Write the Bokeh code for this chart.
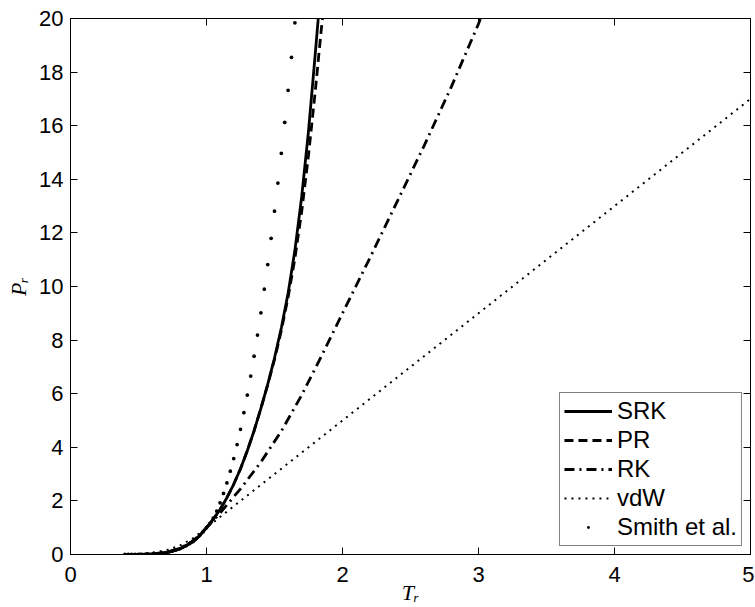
from bokeh.plotting import figure
from bokeh.models import Range1d, FixedTicker, LinearAxis
from bokeh.embed import file_html
from bokeh.resources import INLINE

# ---- data ----
T_srk = [0.4, 0.5, 0.6, 0.7, 0.8, 0.9, 0.95, 1.0, 1.05, 1.1, 1.15, 1.2, 1.25, 1.3, 1.35,
         1.4, 1.45, 1.5, 1.55, 1.6, 1.65, 1.7, 1.75, 1.8, 1.83]
P_srk = [0.0, 0.003, 0.015, 0.065, 0.2, 0.47, 0.7, 1.0, 1.32, 1.68, 2.12, 2.62, 3.2, 3.87, 4.62,
         5.45, 6.35, 7.33, 8.45, 9.75, 11.35, 13.35, 15.8, 18.7, 20.5]

T_pr = [0.4, 0.5, 0.6, 0.7, 0.8, 0.9, 0.95, 1.0, 1.05, 1.1, 1.15, 1.2, 1.25, 1.3, 1.35,
        1.4, 1.45, 1.5, 1.55, 1.6, 1.65, 1.7, 1.75, 1.8, 1.85, 1.87]
P_pr = [0.0, 0.003, 0.015, 0.065, 0.2, 0.47, 0.7, 1.0, 1.32, 1.68, 2.12, 2.62, 3.2, 3.87, 4.62,
        5.45, 6.33, 7.28, 8.35, 9.6, 11.05, 12.8, 14.9, 17.3, 19.9, 20.5]

T_rk = [0.4, 0.5, 0.6, 0.7, 0.8, 0.9, 0.95, 1.0, 1.05, 1.1, 1.15, 1.25, 1.4, 1.55, 1.7,
        1.85, 2.0, 2.2, 2.4, 2.6, 2.8, 3.0, 3.03]
P_rk = [0.0, 0.004, 0.02, 0.075, 0.22, 0.5, 0.72, 1.0, 1.27, 1.55, 1.85, 2.45, 3.45, 4.6, 5.95,
        7.45, 9.0, 11.05, 13.15, 15.25, 17.45, 19.8, 20.2]

T_vdw = [0.4, 0.5, 0.6, 0.7, 0.8, 0.9, 1.0, 2.0, 3.0, 4.0, 5.0]
P_vdw = [0.005, 0.025, 0.07, 0.15, 0.32, 0.6, 1.0, 5.0, 9.0, 13.0, 17.0]

T_smith = [0.4, 0.425, 0.45, 0.475, 0.5, 0.525, 0.55, 0.575, 0.6, 0.625, 0.65, 0.675, 0.7,
           0.725, 0.75, 0.775, 0.8, 0.825, 0.85, 0.875, 0.9, 0.925, 0.95, 0.975, 1.0,
           1.025, 1.05, 1.075, 1.1, 1.125, 1.15, 1.175, 1.2, 1.225, 1.25, 1.275, 1.3,
           1.325, 1.35, 1.375, 1.4, 1.425, 1.45, 1.475, 1.5, 1.525, 1.55, 1.575, 1.6,
           1.625, 1.65]
P_smith = [0.0001, 0.0003, 0.0007, 0.0014, 0.0026, 0.0045, 0.0075, 0.012, 0.018, 0.026,
           0.038, 0.053, 0.072, 0.097, 0.128, 0.165, 0.21, 0.27, 0.33, 0.41, 0.5, 0.6,
           0.72, 0.85, 1.0, 1.16, 1.36, 1.62, 1.93, 2.28, 2.67, 3.11, 3.58, 4.10, 4.67,
           5.29, 5.95, 6.66, 7.40, 8.19, 9.02, 9.90, 10.82, 11.80, 12.81, 13.86, 14.97,
           16.12, 17.32, 18.55, 19.84]

x_ticks = [0, 1, 2, 3, 4, 5]
y_ticks = [0, 2, 4, 6, 8, 10, 12, 14, 16, 18, 20]

TICK_FONT = "Liberation Sans"
TICK_SIZE = "22px"
SERIF = "Liberation Serif"

p = figure(width=754, height=607, output_backend="svg", toolbar_location=None,
           x_range=Range1d(0, 5), y_range=Range1d(0, 20),
           min_border_left=70, min_border_top=18, min_border_right=4, min_border_bottom=52,
           background_fill_color="white", border_fill_color="white")
p.grid.visible = False
p.outline_line_color = "black"
p.outline_line_width = 1

for ax, ticks in ((p.xaxis[0], x_ticks), (p.yaxis[0], y_ticks)):
    ax.ticker = FixedTicker(ticks=ticks)
    ax.major_tick_in = 7
    ax.major_tick_out = 0
    ax.minor_tick_line_color = None
    ax.axis_line_color = "black"
    ax.axis_line_width = 1
    ax.major_tick_line_color = "black"
    ax.major_label_text_font = TICK_FONT
    ax.major_label_text_font_size = TICK_SIZE
    ax.major_label_text_color = "black"
    ax.axis_label_text_font = SERIF
    ax.axis_label_text_font_style = "italic"
    ax.axis_label_text_font_size = "22px"
    ax.axis_label_text_color = "black"

p.xaxis[0].major_label_standoff = 12
p.xaxis[0].axis_label = "T\u1d63"
p.xaxis[0].axis_label_standoff = -5
p.yaxis[0].major_label_standoff = 7
p.yaxis[0].axis_label = "P\u1d63"
p.yaxis[0].axis_label_standoff = 5

for loc, ticks in (("right", y_ticks), ("above", x_ticks)):
    ax = LinearAxis(ticker=FixedTicker(ticks=ticks))
    ax.major_tick_in = 7
    ax.major_tick_out = 0
    ax.minor_tick_line_color = None
    ax.axis_line_color = "black"
    ax.major_label_text_color = None
    ax.major_label_text_font_size = "1px"
    ax.major_label_standoff = 0
    p.add_layout(ax, loc)

p.line(T_srk, P_srk, line_color="black", line_width=2.8, legend_label="SRK")
p.line(T_pr, P_pr, line_color="black", line_width=2.8, line_dash="9 5", legend_label="PR")
p.line(T_rk, P_rk, line_color="black", line_width=2.8, line_dash="10 5 2 5", legend_label="RK")
p.line(T_vdw, P_vdw, line_color="black", line_width=2, line_dash="2 5", legend_label="vdW")
p.scatter(T_smith, P_smith, marker="dot", size=15, line_color="black", fill_color="black",
          legend_label="Smith et al.")

lg = p.legend[0]
lg.location = "bottom_right"
lg.margin = 8
lg.padding = 4
lg.spacing = 1
lg.label_height = 22
lg.glyph_height = 28
lg.glyph_width = 48
lg.label_standoff = 5
lg.label_text_font = TICK_FONT
lg.label_text_font_size = "24px"
lg.label_text_color = "black"
lg.border_line_color = "black"
lg.border_line_width = 1
lg.background_fill_color = "white"
lg.background_fill_alpha = 1

open("out.html", "w").write(file_html(p, INLINE))
